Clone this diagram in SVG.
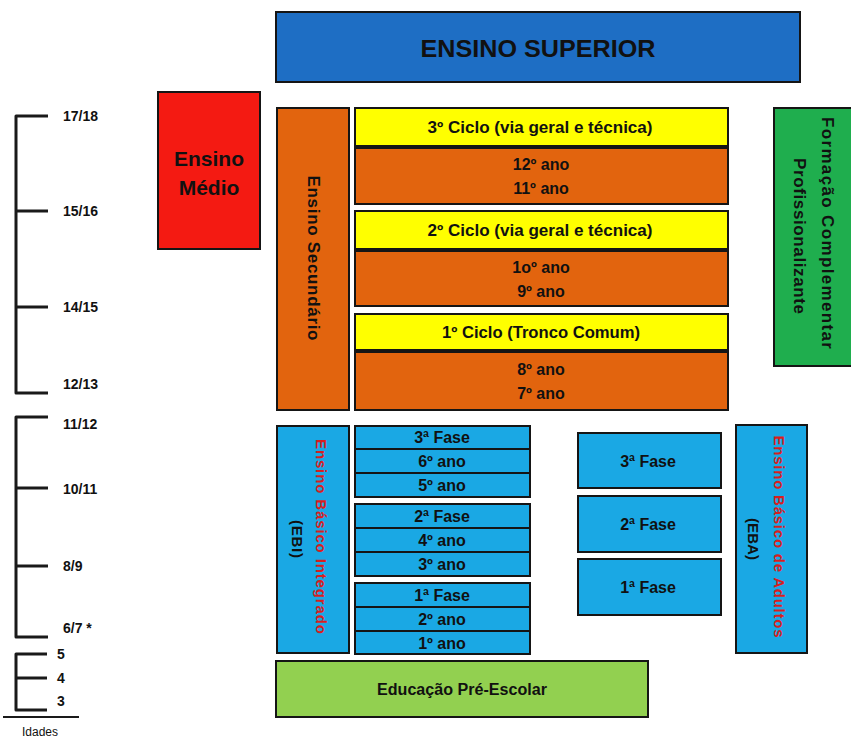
<svg xmlns="http://www.w3.org/2000/svg" width="851" height="738" viewBox="0 0 851 738">
<style>
  text { font-family: "Liberation Sans", Arial, sans-serif; font-weight: bold; fill: #111; }
  .box { stroke: #151515; stroke-width: 2; }
  .blue { fill: #1E6EC4; }
  .red { fill: #F41A12; }
  .orange { fill: #E2640E; }
  .yellow { fill: #FFFF00; }
  .green { fill: #1FAE4E; }
  .lblue { fill: #1AA8E4; }
  .lgreen { fill: #92D050; }
  .c { text-anchor: middle; dominant-baseline: central; }
  .lbl { font-size: 16px; }
  .age { font-size: 14px; }
  .redt { fill: #D81E1E; }
  .axis { fill: none; stroke: #1a1a1a; stroke-width: 3; stroke-linejoin: round; }
  .div { stroke: #151515; stroke-width: 2; }
</style>

<!-- Age axis -->
<g id="ages">
  <path class="axis" d="M48 116 H16 V393 H48 M16 211 H48 M16 307 H48"/>
  <path class="axis" d="M48 417 H16 V637 H48 M16 488 H48 M16 566 H48"/>
  <path class="axis" d="M47 654 H16 V710 H47 M16 678 H47"/>
  <line x1="3" y1="717" x2="79" y2="717" stroke="#1a1a1a" stroke-width="2"/>
  <text class="age" x="63" y="121">17/18</text>
  <text class="age" x="63" y="216">15/16</text>
  <text class="age" x="63" y="312">14/15</text>
  <text class="age" x="63" y="389">12/13</text>
  <text class="age" x="63" y="429">11/12</text>
  <text class="age" x="63" y="494">10/11</text>
  <text class="age" x="63" y="571">8/9</text>
  <text class="age" x="63" y="633">6/7 *</text>
  <text class="age" x="57" y="659">5</text>
  <text class="age" x="57" y="683">4</text>
  <text class="age" x="57" y="706">3</text>
  <text x="40" y="736" style="font-weight:normal;font-size:12px;text-anchor:middle">Idades</text>
</g>

<g id="ensino-superior">
  <rect class="box blue" x="276" y="12" width="524" height="70"/>
  <text class="c" x="538" y="48" style="font-size:24px" textLength="235" lengthAdjust="spacingAndGlyphs">ENSINO SUPERIOR</text>
</g>

<g id="ensino-medio">
  <rect class="box red" x="158" y="92" width="102" height="157"/>
  <text class="c" x="209" y="158" style="font-size:21px">Ensino</text>
  <text class="c" x="209" y="187" style="font-size:21px">Médio</text>
</g>

<g id="ensino-secundario">
  <rect class="box orange" x="277" y="108" width="72" height="302"/>
  <text class="c" transform="translate(313,258) rotate(90)" style="font-size:17px" textLength="165" lengthAdjust="spacing">Ensino Secundário</text>
</g>

<g id="ciclo3">
  <rect class="box yellow" x="355" y="108" width="373" height="38"/>
  <text class="c lbl" x="540" y="127" textLength="225" lengthAdjust="spacingAndGlyphs">3º Ciclo (via geral e técnica)</text>
</g>
<g id="anos-12-11">
  <rect class="box orange" x="355" y="148" width="373" height="56"/>
  <text class="c lbl" x="541" y="164">12º ano</text>
  <text class="c lbl" x="541" y="188">11º ano</text>
</g>
<g id="ciclo2">
  <rect class="box yellow" x="355" y="211" width="373" height="38"/>
  <text class="c lbl" x="540" y="230" textLength="225" lengthAdjust="spacingAndGlyphs">2º Ciclo (via geral e técnica)</text>
</g>
<g id="anos-10-9">
  <rect class="box orange" x="355" y="251" width="373" height="55"/>
  <text class="c lbl" x="541" y="267">1oº ano</text>
  <text class="c lbl" x="541" y="291">9º ano</text>
</g>
<g id="ciclo1">
  <rect class="box yellow" x="355" y="314" width="373" height="36"/>
  <text class="c lbl" x="541" y="332" textLength="198" lengthAdjust="spacingAndGlyphs">1º Ciclo (Tronco Comum)</text>
</g>
<g id="anos-8-7">
  <rect class="box orange" x="355" y="352" width="373" height="58"/>
  <text class="c lbl" x="541" y="369">8º ano</text>
  <text class="c lbl" x="541" y="393">7º ano</text>
</g>

<g id="formacao">
  <rect class="box green" x="774" y="108" width="80" height="258"/>
  <text class="c" transform="translate(814,236) rotate(90)" style="font-size:17px">
    <tspan x="0" y="-14" textLength="232" lengthAdjust="spacing">Formação Complementar</tspan>
    <tspan x="0" y="14" textLength="156" lengthAdjust="spacing">Profissionalizante</tspan>
  </text>
</g>

<g id="ebi">
  <rect class="box lblue" x="277" y="426" width="72" height="227"/>
  <text class="c" transform="translate(310,539) rotate(90)" style="font-size:15px">
    <tspan class="redt" x="0" y="-12" textLength="195" lengthAdjust="spacing">Ensino Básico Integrado</tspan>
    <tspan x="0" y="12" textLength="38" lengthAdjust="spacing">(EBI)</tspan>
  </text>
</g>

<g id="fase3-ebi">
  <rect class="box lblue" x="355" y="426" width="175" height="71"/>
  <line class="div" x1="355" y1="449" x2="530" y2="449"/>
  <line class="div" x1="355" y1="473" x2="530" y2="473"/>
  <text class="c lbl" x="442" y="437">3ª Fase</text>
  <text class="c lbl" x="442" y="461">6º ano</text>
  <text class="c lbl" x="442" y="485">5º ano</text>
</g>
<g id="fase2-ebi">
  <rect class="box lblue" x="355" y="504" width="175" height="72"/>
  <line class="div" x1="355" y1="528" x2="530" y2="528"/>
  <line class="div" x1="355" y1="552" x2="530" y2="552"/>
  <text class="c lbl" x="442" y="516">2ª Fase</text>
  <text class="c lbl" x="442" y="540">4º ano</text>
  <text class="c lbl" x="442" y="564">3º ano</text>
</g>
<g id="fase1-ebi">
  <rect class="box lblue" x="355" y="583" width="175" height="71"/>
  <line class="div" x1="355" y1="607" x2="530" y2="607"/>
  <line class="div" x1="355" y1="631" x2="530" y2="631"/>
  <text class="c lbl" x="442" y="595">1ª Fase</text>
  <text class="c lbl" x="442" y="619">2º ano</text>
  <text class="c lbl" x="442" y="643">1º ano</text>
</g>

<g id="fase3-eba">
  <rect class="box lblue" x="578" y="433" width="143" height="55"/>
  <text class="c lbl" x="648" y="461">3ª Fase</text>
</g>
<g id="fase2-eba">
  <rect class="box lblue" x="578" y="496" width="143" height="56"/>
  <text class="c lbl" x="648" y="524">2ª Fase</text>
</g>
<g id="fase1-eba">
  <rect class="box lblue" x="578" y="559" width="143" height="56"/>
  <text class="c lbl" x="648" y="587">1ª Fase</text>
</g>

<g id="eba">
  <rect class="box lblue" x="736" y="425" width="71" height="228"/>
  <text class="c" transform="translate(767,539) rotate(90)" style="font-size:15px">
    <tspan class="redt" x="0" y="-13" textLength="202" lengthAdjust="spacing">Ensino Básico de Adultos</tspan>
    <tspan x="0" y="13" textLength="42" lengthAdjust="spacing">(EBA)</tspan>
  </text>
</g>

<g id="pre-escolar">
  <rect class="box lgreen" x="276" y="661" width="372" height="56"/>
  <text class="c" x="462" y="689" style="font-size:16px" textLength="170" lengthAdjust="spacingAndGlyphs">Educação Pré-Escolar</text>
</g>
</svg>
